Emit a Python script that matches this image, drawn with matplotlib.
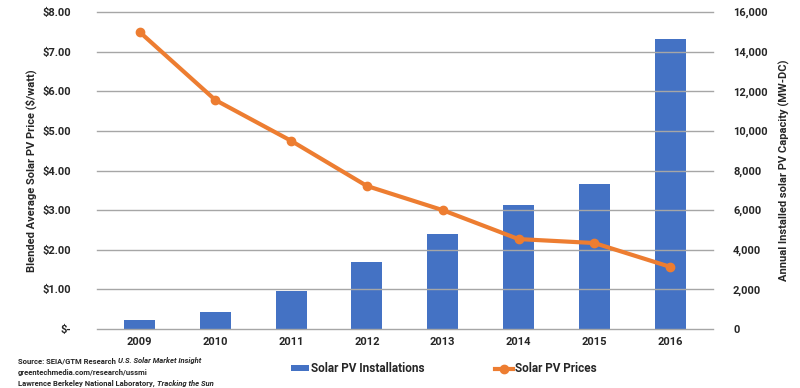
import matplotlib
matplotlib.use("Agg")
import matplotlib.pyplot as plt
import numpy as np
from matplotlib.ticker import FuncFormatter, FixedLocator

years = ["2009", "2010", "2011", "2012", "2013", "2014", "2015", "2016"]
installs_mw = [450, 860, 1920, 3380, 4790, 6250, 7300, 14630]
prices = [7.50, 5.78, 4.75, 3.61, 3.00, 2.27, 2.17, 1.57]
price_ticks = [0, 1, 2, 3, 4, 5, 6, 7, 8]
cap_ticks = [0, 2000, 4000, 6000, 8000, 10000, 12000, 14000, 16000]

BLUE = "#4472C4"
ORANGE = "#ED7D31"
GRID = "#A6A6A6"
TXT = "#262626"
plt.rcParams['font.family'] = ['Roboto', 'DejaVu Sans']

fig = plt.figure(figsize=(8, 3.88), dpi=100)
ax = fig.add_axes([0.127, 0.152, 0.758, 0.817])
ax2 = ax.twinx()
x = np.arange(len(years))

ax2.bar(x, installs_mw, width=0.41, color=BLUE, zorder=2, label="Solar PV Installations")
ax2.set_ylim(0, 16000)
ax2.yaxis.set_major_locator(FixedLocator(cap_ticks))
ax2.yaxis.set_major_formatter(FuncFormatter(lambda v, p: "0" if v == 0 else f"{int(v):,}"))

ax.set_ylim(0, 8)
ax.yaxis.set_major_locator(FixedLocator(price_ticks))
ax.yaxis.set_major_formatter(FuncFormatter(lambda v, p: "$-" if v == 0 else f"${v:.2f}"))
ax.set_xlim(-0.5, len(years) - 0.5)
ax.set_xticks(x)
ax.set_xticklabels(years)

for t in price_ticks:
    ax.axhline(t, xmin=-0.008, xmax=1.008, color=GRID, lw=1.0, zorder=0, clip_on=False)

ax.set_zorder(ax2.get_zorder() + 1)
ax.patch.set_visible(False)
ln, = ax.plot(x, prices, color=ORANGE, lw=3, marker="o", ms=6, zorder=5, label="Solar PV Prices")

for a in (ax, ax2):
    for s in a.spines.values():
        s.set_visible(False)
ax.tick_params(axis="y", length=0, pad=22, labelsize=8, labelcolor=TXT)
ax2.tick_params(axis="y", length=0, pad=18, labelsize=8, labelcolor=TXT)
ax.tick_params(axis="x", length=0, pad=6, labelsize=8, labelcolor=TXT)
for lbl in ax.get_xticklabels() + ax.get_yticklabels() + ax2.get_yticklabels():
    lbl.set_fontweight("bold")

ax.set_ylabel("Blended Average Solar PV Price ($/watt)", fontsize=8, fontweight="bold", color=TXT, labelpad=4)
ax2.set_ylabel("Annual Installed solar PV Capacity (MW-DC)", fontsize=8, fontweight="bold", color=TXT, labelpad=8)

bars_handle = ax2.patches[0]
leg = fig.legend([bars_handle, ln], ["Solar PV Installations", "Solar PV Prices"],
                 loc="center", bbox_to_anchor=(0.555, 0.049), ncol=2, frameon=False,
                 fontsize=8.5, handlelength=1.5, handleheight=0.4,
                 handletextpad=0.2, columnspacing=6.0)
for t in leg.get_texts():
    t.set_color(TXT)
    t.set_fontweight("bold")

fig.canvas.draw()
renderer = fig.canvas.get_renderer()
lines = [
    [("Source: SEIA/GTM Research ", "normal"), ("U.S. Solar Market Insight", "italic")],
    [("greentechmedia.com/research/ussmi", "normal")],
    [("Lawrence Berkeley National Laboratory, ", "normal"), ("Tracking the Sun", "italic")],
]
y0 = 1 - 363 / 388
dy = 11.5 / 388
for i, parts in enumerate(lines):
    xpos = 18 / 800
    for txt, style in parts:
        t = fig.text(xpos, y0 - i * dy, txt, fontsize=5.5, fontweight="bold", style=style,
                     color=TXT, va="baseline", ha="left")
        bb = t.get_window_extent(renderer)
        xpos += bb.width / 800

fig.savefig("out.png", dpi=100)
